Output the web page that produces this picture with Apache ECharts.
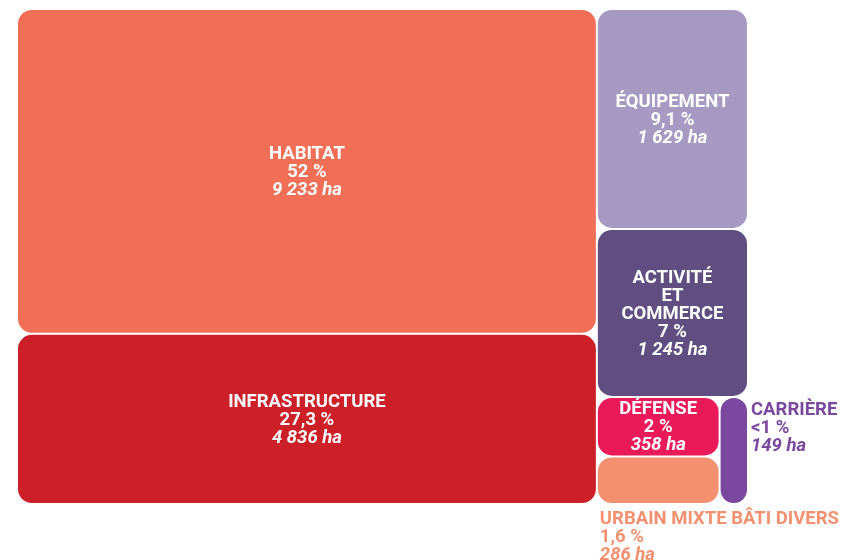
<!DOCTYPE html>
<html>
<head>
<meta charset="utf-8">
<script src="https://cdn.jsdelivr.net/npm/echarts@6/dist/echarts.min.js"></script>
<style>
  html, body { margin: 0; padding: 0; background: #ffffff; }
  #chart { width: 845px; height: 560px; }
</style>
</head>
<body>
<div id="chart"></div>
<script>
// Land use categories (surface in hectares)
const categories = ['HABITAT', 'INFRASTRUCTURE', 'ÉQUIPEMENT', 'ACTIVITÉ\nET\nCOMMERCE', 'DÉFENSE', 'URBAIN MIXTE BÂTI DIVERS', 'CARRIÈRE'];
const areasHa = [9233, 4836, 1629, 1245, 358, 286, 149];
const shareLabels = ['52 %', '27,3 %', '9,1 %', '7 %', '2 %', '1,6 %', '<1 %'];
const colors = ['#F16F56', '#CD1F27', '#A69AC3', '#5F4E7F', '#EA1A5A', '#F3906F', '#7A489F'];
// Where each label sits relative to its tile: centred inside, or outside for the tiny tiles
const labelPlacement = ['inside', 'inside', 'inside', 'inside', 'inside', 'below', 'right'];

const FONT = 'Roboto, "Noto Sans", sans-serif';
const FONT_SIZE = 18.5;
const LINE_H = 18;

function formatHa(v) {
  return String(v).replace(/\B(?=(\d{3})+(?!\d))/g, ' ') + ' ha';
}

function richStyles(color) {
  const base = { fill: color, color: color, fontFamily: FONT, fontWeight: 'bold', fontSize: FONT_SIZE, lineHeight: LINE_H };
  return {
    n: Object.assign({}, base),
    p: Object.assign({}, base),
    h: Object.assign({}, base, { fontStyle: 'italic' })
  };
}

function labelText(i) {
  const nameLines = categories[i].split('\n').map(s => '{n|' + s + '}').join('\n');
  return nameLines + '\n{p|' + shareLabels[i] + '}\n{h|' + formatHa(areasHa[i]) + '}';
}

const data = categories.map((name, i) => ({
  name: name,
  value: areasHa[i],
  itemStyle: { color: colors[i] }
}));

const chart = echarts.init(document.getElementById('chart'), null, { renderer: 'canvas' });
chart.setOption({
  backgroundColor: '#ffffff',
  animation: false,
  series: [{
    type: 'treemap',
    left: 18,
    top: 10,
    width: 729,
    height: 493,
    squareRatio: 1.7,
    roam: false,
    nodeClick: false,
    breadcrumb: { show: false },
    label: { show: false },
    itemStyle: { borderRadius: 14, borderWidth: 0, gapWidth: 2 },
    levels: [
      { itemStyle: { gapWidth: 2, borderWidth: 0, borderColor: '#ffffff' } },
      { itemStyle: { borderRadius: 14, borderWidth: 0 } }
    ],
    data: data
  }]
});

// Place the labels from the tile rectangles computed by the treemap layout
(function placeLabels() {
  const seriesModel = chart.getModel().getSeriesByIndex(0);
  const info = seriesModel.layoutInfo || { x: 18, y: 10 };
  const root = seriesModel.getData().tree.root;
  const rootLayout = root.getLayout() || { x: 0, y: 0 };
  const texts = [];
  root.children.forEach(node => {
    const i = categories.indexOf(node.name);
    const l = node.getLayout();
    const x0 = info.x + rootLayout.x + l.x;
    const y0 = info.y + rootLayout.y + l.y;
    const place = labelPlacement[i];
    let el;
    if (place === 'inside') {
      el = {
        type: 'text', x: x0 + l.width / 2, y: y0 + l.height / 2 + 1,
        style: { text: labelText(i), align: 'center', verticalAlign: 'middle', rich: richStyles('#ffffff') }
      };
    } else if (place === 'right') {
      el = {
        type: 'text', x: x0 + l.width + 4, y: y0 + 3,
        style: { text: labelText(i), align: 'left', verticalAlign: 'top', rich: richStyles(colors[i]) }
      };
    } else {
      el = {
        type: 'text', x: x0 + 2, y: y0 + l.height + 7,
        style: { text: labelText(i), align: 'left', verticalAlign: 'top', rich: richStyles(colors[i]) }
      };
    }
    el.silent = true;
    el.z = 100;
    el.zlevel = 0;
    texts.push(el);
  });
  chart.setOption({ graphic: { elements: texts } });
})();
</script>
</body>
</html>
